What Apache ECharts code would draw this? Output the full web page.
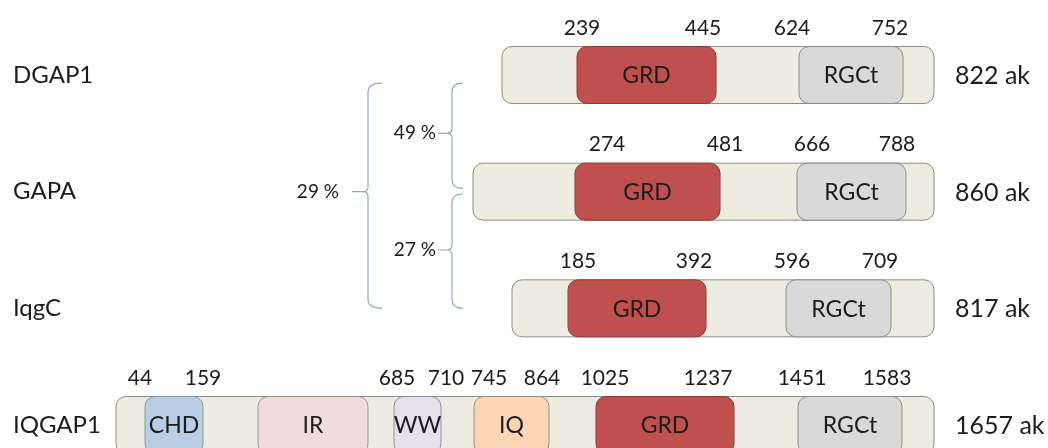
<!DOCTYPE html>
<html>
<head>
<meta charset="utf-8">
<script src="https://cdn.jsdelivr.net/npm/echarts@6/dist/echarts.min.js"></script>
<style>
html,body{margin:0;padding:0;background:#fff;}
#chart{width:1048px;height:448px;}
</style>
</head>
<body>
<div id="chart"></div>
<script>
// ---- data ----
const proteins = ['DGAP1', 'GAPA', 'IqgC', 'IQGAP1'];
const lengthsAA = [822, 860, 817, 1657];
// schematic extent of each protein body along the drawing axis
const bodyStart = [502, 473, 512, 116];
const bodyEnd = [934, 934, 934, 934];
// domains
const domainRow = [0, 0, 1, 1, 2, 2, 3, 3, 3, 3, 3, 3];
const domainName = ['GRD', 'RGCt', 'GRD', 'RGCt', 'GRD', 'RGCt', 'CHD', 'IR', 'WW', 'IQ', 'GRD', 'RGCt'];
const domainStart = [577, 799, 575, 797, 568, 786, 145, 258, 394, 474, 596, 798];
const domainEnd = [716, 903, 720, 906, 706, 891, 203, 368, 441, 549, 734, 902];
// residue boundary numbers
const residueRow = [0, 0, 0, 0, 1, 1, 1, 1, 2, 2, 2, 2, 3, 3, 3, 3, 3, 3, 3, 3, 3, 3];
const residueNumber = [239, 445, 624, 752, 274, 481, 666, 788, 185, 392, 596, 709, 44, 159, 685, 710, 745, 864, 1025, 1237, 1451, 1583];
const residuePos = [582, 703, 792, 890, 607, 725, 812, 897, 578, 694, 792, 880, 140, 203, 397, 446, 489, 542, 605, 708, 802, 887];
// sequence identity brackets
const identityLabel = ['49 %', '27 %', '29 %'];
const identityFrom = [0.07, 1.02, 0.07];
const identityTo = [0.97, 2.0, 2.0];
const identityAt = [0.5, 1.5, 1.0];
const braceSpine = [452, 452, 368];
const identityLabelX = [436, 436, 339];

// ---- styles ----
const FONT = 'Lato, "Open Sans", sans-serif';
const TEXT = '#1c1c1c';
const domainFill = { GRD: '#C0504D', RGCt: '#D9D9D9', CHD: '#B9CDE5', IR: '#F2DCDB', WW: '#E6E0EC', IQ: '#FCD5B5' };
const domainStroke = { GRD: '#8E3A37', RGCt: '#8C8C8C', CHD: '#8C96A3', IR: '#9C9090', WW: '#8F8C96', IQ: '#A08C7C' };
const BAR_H = 57;

const chart = echarts.init(document.getElementById('chart'));

const bodyData = proteins.map((p, i) => [bodyStart[i], bodyEnd[i], i]);
const domainData = domainName.map((n, i) => [domainStart[i], domainEnd[i], domainRow[i], n]);
const residueData = residueNumber.map((n, i) => [residuePos[i], residueRow[i], n]);
const lengthData = lengthsAA.map((l, i) => [bodyEnd[i], i, l]);
const braceData = identityLabel.map((t, i) => [braceSpine[i], identityFrom[i], identityTo[i], identityAt[i], identityLabelX[i], t]);

function rectItem(params, api, fill, stroke, label) {
  const a = api.coord([api.value(0), api.value(2)]);
  const b = api.coord([api.value(1), api.value(2)]);
  const children = [{
    type: 'rect',
    shape: { x: a[0], y: a[1] - BAR_H / 2, width: b[0] - a[0], height: BAR_H, r: 10 },
    style: { fill: fill, stroke: stroke, lineWidth: 1 }
  }];
  if (label) {
    children.push({
      type: 'text',
      style: { x: (a[0] + b[0]) / 2, y: a[1] + 1, text: label, fill: TEXT, font: '23px ' + FONT, align: 'center', verticalAlign: 'middle' }
    });
  }
  return { type: 'group', children: children };
}

chart.setOption({
  animation: false,
  backgroundColor: '#ffffff',
  grid: { left: 0, right: 0, top: 75, bottom: 23, containLabel: false },
  xAxis: { type: 'value', min: 0, max: 1048, show: false },
  yAxis: {
    type: 'value', min: 0, max: 3, interval: 1, inverse: true,
    axisLine: { show: false }, axisTick: { show: false }, splitLine: { show: false },
    axisLabel: {
      inside: true, margin: 13, showMinLabel: true, showMaxLabel: true,
      formatter: v => proteins[v] || '',
      color: TEXT, fontSize: 24, fontFamily: FONT, align: 'left', verticalAlign: 'middle'
    }
  },
  series: [
    {
      type: 'custom', z: 1, data: bodyData,
      renderItem: (params, api) => rectItem(params, api, '#EEECE1', '#8C8C8C', null)
    },
    {
      type: 'custom', z: 2, data: domainData,
      renderItem: (params, api) => {
        const n = domainName[params.dataIndex];
        return rectItem(params, api, domainFill[n], domainStroke[n], n);
      }
    },
    {
      type: 'custom', z: 3, data: residueData,
      renderItem: (params, api) => {
        const c = api.coord([api.value(0), api.value(1)]);
        return { type: 'text', style: { x: c[0], y: c[1] - 47, text: String(api.value(2)), fill: TEXT, font: '21px ' + FONT, align: 'center', verticalAlign: 'middle' } };
      }
    },
    {
      type: 'custom', z: 3, data: lengthData,
      renderItem: (params, api) => {
        const c = api.coord([api.value(0), api.value(1)]);
        return { type: 'text', style: { x: c[0] + 21, y: c[1] + 1, text: api.value(2) + ' ak', fill: TEXT, font: '25px ' + FONT, align: 'left', verticalAlign: 'middle' } };
      }
    },
    {
      type: 'custom', z: 3, data: braceData,
      renderItem: (params, api) => {
        const top = api.coord([api.value(0), api.value(1)]);
        const bot = api.coord([api.value(0), api.value(2)]);
        const mid = api.coord([api.value(0), api.value(3)]);
        const lab = api.coord([api.value(4), api.value(3)]);
        const s = top[0];
        const big = params.dataIndex === 2;
        const tip = s + (big ? 14 : 11);
        const pt = s - (big ? 16 : 14);
        const r = 9, y0 = top[1], y1 = bot[1], ym = mid[1];
        const d = 'M' + tip + ' ' + y0 + ' Q' + s + ' ' + y0 + ' ' + s + ' ' + (y0 + r) +
          ' L' + s + ' ' + (ym - 5) + ' Q' + s + ' ' + ym + ' ' + (s - 5) + ' ' + ym +
          ' L' + pt + ' ' + ym + ' M' + (s - 5) + ' ' + ym + ' Q' + s + ' ' + ym + ' ' + s + ' ' + (ym + 5) +
          ' L' + s + ' ' + (y1 - r) + ' Q' + s + ' ' + y1 + ' ' + tip + ' ' + y1;
        return {
          type: 'group', children: [
            { type: 'path', shape: { pathData: d }, style: { fill: null, stroke: '#8EA9CB', lineWidth: 1.2 } },
            { type: 'text', style: { x: lab[0], y: ym, text: identityLabel[params.dataIndex], fill: TEXT, font: '19px ' + FONT, align: 'right', verticalAlign: 'middle' } }
          ]
        };
      }
    }
  ]
});
</script>
</body>
</html>
